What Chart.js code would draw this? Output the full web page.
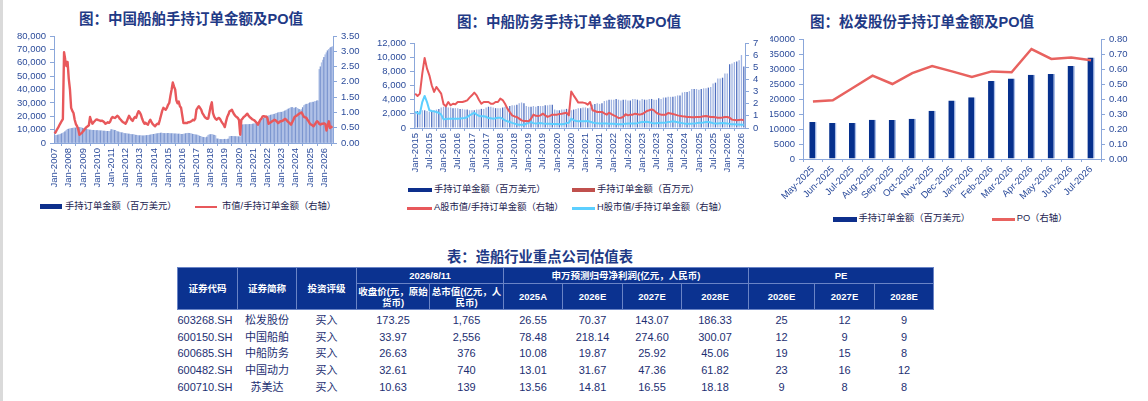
<!DOCTYPE html>
<html lang="zh-CN">
<head>
<meta charset="UTF-8">
<title>造船行业手持订单与估值</title>
<script src="https://cdn.jsdelivr.net/npm/chart.js"></script>
<style>
  html, body { margin: 0; padding: 0; }
  body { width: 1148px; height: 401px; position: relative; overflow: hidden; background: #fff;
         font-family: "Liberation Sans", "Noto Sans CJK SC", sans-serif; }
  .edge { position: absolute; left: 0; top: 0; width: 3px; height: 401px; background: #dadada; }
  .title { position: absolute; transform: translate(-50%, -50%); white-space: nowrap;
           font-size: 14.5px; font-weight: bold; color: #1f3a86; }
  canvas { position: absolute; }
  .sw { position: absolute; }
  .lt { position: absolute; transform: translateY(-50%); white-space: nowrap; font-size: 9.3px;
        color: #1c2350; line-height: 1; }
  table.val { position: absolute; left: 177px; top: 267px; width: 756px; border-collapse: collapse; table-layout: fixed; }
  table.val th { background: #0b3290; color: #fff; font-size: 9.5px; font-weight: bold; border: 1px solid #6a84c6;
                 padding: 0 1px; line-height: 11px; text-align: center; overflow: hidden; }
  table.val tr.r1 th { height: 15px; }
  table.val tr.r2 th { height: 25px; }
  table.val td { font-size: 11px; color: #1d2f72; text-align: center; padding: 0; height: 16.6px;
                 line-height: 16px; white-space: nowrap; }
  table.val tr.first td { padding-top: 2px; }
  table.val td.code { text-align: left; }
</style>
</head>
<body>
<div class="edge"></div>

<!-- 图1 中国船舶 -->
<div class="title" style="left:191px; top:16.5px">图：中国船舶手持订单金额及PO值</div>
<canvas id="c1" width="366" height="170" style="left:0; top:26px"></canvas>
<div class="sw" style="left:40px; top:204.3px; width:22px; height:4.7px; background:#0d2f8c"></div>
<div class="lt" style="left:65px; top:206.7px">手持订单金额（百万美元）</div>
<div class="sw" style="left:195px; top:205.5px; width:22px; height:2.5px; background:#e8585b"></div>
<div class="lt" style="left:222px; top:206.7px">市值/手持订单金额（右轴）</div>

<!-- 图2 中船防务 -->
<div class="title" style="left:569px; top:20px">图：中船防务手持订单金额及PO值</div>
<canvas id="c2" width="400" height="150" style="left:370px; top:30px"></canvas>
<div class="sw" style="left:408px; top:187.7px; width:24px; height:4.7px; background:#0d2f8c"></div>
<div class="lt" style="left:434px; top:190px">手持订单金额（百万美元）</div>
<div class="sw" style="left:572px; top:187.7px; width:23px; height:4.7px; background:#c0504d"></div>
<div class="lt" style="left:597px; top:190px">手持订单金额（百万元）</div>
<div class="sw" style="left:407px; top:207px; width:25px; height:2.5px; background:#e8585b"></div>
<div class="lt" style="left:434px; top:208.3px">A股市值/手持订单金额（右轴）</div>
<div class="sw" style="left:572px; top:207px; width:23px; height:2.5px; background:#5ccfff"></div>
<div class="lt" style="left:597px; top:208.3px">H股市值/手持订单金额（右轴）</div>

<!-- 图3 松发股份 -->
<div class="title" style="left:922px; top:20px">图：松发股份手持订单金额及PO值</div>
<canvas id="c3" width="378" height="180" style="left:770px; top:28px"></canvas>
<div class="sw" style="left:832.7px; top:217px; width:24px; height:5px; background:#0d2f8c"></div>
<div class="lt" style="left:858.5px; top:219.3px">手持订单金额（百万美元）</div>
<div class="sw" style="left:991.7px; top:218px; width:23px; height:2.5px; background:#e8625f"></div>
<div class="lt" style="left:1016.7px; top:219.3px">PO（右轴）</div>

<!-- 估值表 -->
<div class="title" style="left:540px; top:255px; font-size:14.3px">表：造船行业重点公司估值表</div>
<table class="val">
  <colgroup>
    <col style="width:60px"><col style="width:59px"><col style="width:60px"><col style="width:73px">
    <col style="width:74px"><col style="width:59px"><col style="width:60px"><col style="width:59px">
    <col style="width:67px"><col style="width:66px"><col style="width:60px"><col style="width:59px">
  </colgroup>
  <tr class="r1">
    <th rowspan="2">证券代码</th><th rowspan="2">证券简称</th><th rowspan="2">投资评级</th>
    <th colspan="2">2026/8/11</th><th colspan="4">申万预测归母净利润(亿元，人民币)</th><th colspan="3">PE</th>
  </tr>
  <tr class="r2">
    <th>收盘价(元，原始货币)</th><th>总市值(亿元，人民币)</th>
    <th>2025A</th><th>2026E</th><th>2027E</th><th>2028E</th><th>2026E</th><th>2027E</th><th>2028E</th>
  </tr>
  <tr class="first"><td class="code">603268.SH</td><td>松发股份</td><td>买入</td><td>173.25</td><td>1,765</td><td>26.55</td><td>70.37</td><td>143.07</td><td>186.33</td><td>25</td><td>12</td><td>9</td></tr>
  <tr><td class="code">600150.SH</td><td>中国船舶</td><td>买入</td><td>33.97</td><td>2,556</td><td>78.48</td><td>218.14</td><td>274.60</td><td>300.07</td><td>12</td><td>9</td><td>9</td></tr>
  <tr><td class="code">600685.SH</td><td>中船防务</td><td>买入</td><td>26.63</td><td>376</td><td>10.08</td><td>19.87</td><td>25.92</td><td>45.06</td><td>19</td><td>15</td><td>8</td></tr>
  <tr><td class="code">600482.SH</td><td>中国动力</td><td>买入</td><td>32.61</td><td>740</td><td>13.01</td><td>31.67</td><td>47.36</td><td>61.82</td><td>23</td><td>16</td><td>12</td></tr>
  <tr><td class="code">600710.SH</td><td>苏美达</td><td>买入</td><td>10.63</td><td>139</td><td>13.56</td><td>14.81</td><td>16.55</td><td>18.18</td><td>9</td><td>8</td><td>8</td></tr>
</table>

<script>
// 中国船舶：手持订单金额（百万美元），2007年1月起逐月
const csscOrders = [
  5500, 5600, 5800, 6000, 6200, 6500, 7000, 7400, 7800, 8500, 9500, 10200,
  10400, 10600, 10800, 11000, 11200, 11300, 11200, 11400, 11500, 11600, 11500, 11300,
  11000, 10800, 10500, 10200, 10000, 9800, 9700, 9600, 9500, 9500, 9400, 9300,
  9300, 9200, 9200, 9100, 9000, 9000, 8900, 8800, 8700, 8700, 8600, 8700,
  10000, 9800, 9600, 9400, 9000, 8600, 8300, 8000, 7800, 7600, 7400, 7200,
  7000, 6900, 6800, 6600, 6500, 6400, 6300, 6200, 6000, 5800, 5600, 5500,
  5500, 5400, 5400, 5300, 5400, 5500, 5600, 5700, 5800, 6000, 6200, 6400,
  6500, 6700, 6800, 7000, 7200, 7300, 7400, 7300, 7200, 7100, 7000, 7100,
  7200, 7100, 7000, 7000, 6900, 6900, 6800, 6800, 6700, 6700, 6600, 6500,
  6500, 6600, 6800, 7000, 7200, 7300, 7200, 7000, 6800, 6500, 6300, 6200,
  6000, 5800, 5500, 5000, 4700, 4400, 4200, 4000, 3800, 4500, 5800, 6200,
  6300, 6400, 6200, 5800, 5500, 3200, 3000, 2800, 2700, 2600, 2600, 2700,
  2800, 2700, 2700, 3000, 4800, 5000, 5000, 4900, 4900, 4800, 4700, 4700,
  4600, 4500, 13500, 13600, 13600, 13700, 13700, 13800, 13800, 13900, 13900, 14000,
  14200, 14300, 14500, 15000, 15500, 16000, 17000, 17500, 18000, 18500, 19000, 19500,
  20000, 20300, 20500, 20800, 21000, 21300, 21500, 22000, 22200, 22500, 22800, 23000,
  23000, 23200, 23500, 24000, 24500, 25000, 25500, 26000, 26500, 26500, 26000, 26000,
  26500, 26000, 25500, 25000, 24500, 25000, 26500, 28000, 28500, 29000, 29000, 29500,
  30000, 30000, 30500, 30500, 31000, 31000, 31500, 31500, 55000, 57000, 60000, 62000,
  64000, 66000, 67500, 69000, 70000, 71000, 71500, 72000
];
// 中国船舶：市值/手持订单金额（右轴）
const csscPO = [
  0.31, 0.36, 0.44, 0.50, 0.58, 0.65, 0.72, 0.78, 2.97, 2.73, 2.52, 2.65,
  2.10, 1.75, 1.15, 1.05, 0.98, 0.76, 0.62, 0.55, 0.45, 0.27, 0.30, 0.33,
  0.38, 0.42, 0.48, 0.52, 0.55, 0.58, 0.85, 0.72, 0.63, 0.68, 0.72, 0.76,
  0.77, 0.75, 0.74, 0.72, 0.73, 0.71, 0.68, 0.63, 0.65, 0.68, 0.66, 0.70,
  0.80, 0.85, 0.83, 0.82, 0.85, 0.89, 0.86, 0.80, 0.76, 0.71, 0.68, 0.66,
  0.63, 0.70, 0.80, 0.89, 0.82, 0.76, 0.72, 0.80, 0.85, 0.83, 0.95, 1.04,
  1.00, 0.93, 0.80, 0.70, 0.63, 0.66, 0.62, 0.60, 0.70, 0.76, 0.68, 0.62,
  0.58, 0.55, 0.60, 0.63, 0.62, 0.75, 0.90, 1.05, 1.15, 1.12, 1.09, 1.15,
  1.25, 1.31, 1.55, 1.75, 1.98, 1.85, 1.75, 1.40, 1.30, 1.36, 1.20, 1.15,
  0.90, 0.65, 0.65, 0.66, 0.65, 0.68, 0.68, 0.70, 0.72, 0.76, 0.74, 0.80,
  1.09, 1.15, 1.20, 1.15, 1.09, 0.98, 0.92, 0.85, 0.82, 0.79, 0.80, 1.00,
  1.20, 1.33, 0.98, 0.86, 0.80, 0.76, 0.80, 0.82, 0.78, 0.71, 0.65, 0.60,
  0.52, 0.70, 0.85, 0.93, 1.04, 1.06, 1.09, 1.00, 0.93, 0.88, 0.85, 0.82,
  0.75, 0.27, 0.76, 0.80, 0.85, 0.88, 0.92, 0.96, 0.90, 0.85, 0.82, 0.78,
  0.76, 0.74, 0.70, 0.66, 0.60, 0.68, 0.76, 0.80, 0.87, 0.88, 0.86, 0.87,
  0.82, 0.63, 0.66, 0.68, 0.71, 0.73, 0.76, 0.74, 0.70, 0.65, 0.68, 0.71,
  0.71, 0.73, 0.76, 0.79, 0.76, 0.71, 0.68, 0.64, 0.60, 0.68, 0.76, 0.85,
  0.88, 0.90, 0.93, 0.96, 0.98, 1.00, 0.92, 0.85, 0.84, 0.82, 0.75, 0.70,
  0.63, 0.60, 0.58, 0.55, 0.60, 0.66, 0.71, 0.68, 0.62, 0.60, 0.63, 0.63,
  0.64, 0.62, 0.41, 0.58, 0.71, 0.49, 0.52, 0.55
];

// 中船防务：手持订单金额（百万美元），2015年1月起逐月
const gsiOrders = [
  2300, 2400, 2400, 2500, 2500, 2400, 2300, 2400, 2500, 2600, 2700, 2900,
  3000, 3000, 2900, 2900, 2800, 2800, 2800, 2700, 2700, 2600, 2600, 2500,
  2500, 2500, 2600, 2600, 2700, 2700, 2900, 3000, 3000, 2900, 2800, 2800,
  2800, 2900, 3000, 3000, 3100, 3200, 3200, 3300, 3500, 3600, 3500, 3100,
  3000, 3000, 3100, 3000, 3100, 3100, 3100, 3200, 3200, 3300, 3300, 2600,
  2500, 2500, 2600, 2600, 2700, 2600, 2500, 2600, 2700, 2800, 2800, 2900,
  2900, 2800, 2900, 3300, 3400, 3500, 3400, 3500, 3800, 3900, 4000, 4000,
  4000, 4100, 4000, 3900, 4000, 4000, 3900, 3900, 4100, 4100, 4000, 3900,
  4100, 4000, 4000, 4100, 4100, 4000, 4000, 4200, 4100, 4300, 4300, 4400,
  4400, 4400, 4500, 4600, 4600, 5000, 5100, 5100, 5200, 5500, 5500, 5500,
  5400, 5500, 5600, 5600, 5700, 5800, 6300, 6400, 7000, 7000, 7100, 7700,
  7700, 9000, 9100, 9300, 9400, 9550, 10300, 8700
];
// 中船防务：A股市值/手持订单金额（右轴）
const gsiPOA = [
  2.83, 2.64, 2.83, 4.48, 5.77, 4.89, 4.34, 3.52, 2.97, 3.38, 3.10, 2.83,
  1.95, 1.79, 2.14, 1.87, 2.00, 1.95, 2.14, 2.14, 2.14, 2.20, 2.28, 2.50,
  2.69, 2.91, 2.69, 2.30, 2.00, 2.14, 2.14, 2.14, 2.00, 2.00, 2.14, 2.14,
  2.42, 2.30, 2.00, 1.60, 1.32, 1.04, 0.95, 0.91, 0.77, 0.63, 0.58, 0.57,
  0.55, 0.77, 1.10, 1.00, 0.99, 1.04, 1.18, 1.04, 0.91, 1.00, 1.10, 1.10,
  1.10, 1.15, 1.18, 1.22, 1.26, 1.04, 3.00, 2.69, 2.40, 2.09, 2.09, 2.09,
  2.05, 1.92, 2.14, 1.46, 1.40, 1.32, 1.32, 1.32, 1.20, 1.10, 1.26, 1.15,
  1.04, 0.95, 0.82, 0.85, 0.91, 1.13, 1.04, 1.10, 1.10, 1.18, 1.14, 1.10,
  1.15, 1.26, 1.40, 1.46, 1.54, 1.45, 1.26, 1.15, 1.10, 1.10, 1.10, 1.24,
  1.20, 1.15, 1.10, 1.04, 1.00, 0.96, 0.94, 0.91, 0.90, 0.88, 0.89, 0.90,
  0.91, 0.93, 0.96, 0.99, 0.95, 0.91, 0.91, 0.88, 0.85, 0.85, 0.87, 0.90,
  0.91, 0.85, 0.69, 0.66, 0.63, 0.66, 0.69, 0.63
];
// 中船防务：H股市值/手持订单金额（右轴）
const gsiPOH = [
  1.32, 1.22, 1.18, 2.14, 2.64, 2.14, 1.46, 1.40, 1.37, 1.32, 1.25, 1.10,
  0.71, 0.74, 0.77, 0.77, 0.76, 0.77, 0.77, 0.78, 0.80, 0.82, 0.90, 1.04,
  1.15, 1.26, 1.10, 0.99, 0.97, 0.96, 0.92, 0.82, 0.80, 0.77, 0.80, 0.85,
  0.85, 0.75, 0.63, 0.55, 0.49, 0.42, 0.36, 0.30, 0.27, 0.27, 0.27, 0.35,
  0.42, 0.49, 0.40, 0.36, 0.40, 0.41, 0.38, 0.36, 0.36, 0.35, 0.33, 0.33,
  0.33, 0.31, 0.30, 0.32, 0.40, 0.44, 0.77, 0.65, 0.58, 0.56, 0.55, 0.55,
  0.56, 0.58, 0.52, 0.45, 0.41, 0.40, 0.38, 0.38, 0.38, 0.37, 0.36, 0.35,
  0.35, 0.33, 0.30, 0.31, 0.33, 0.36, 0.37, 0.38, 0.38, 0.38, 0.40, 0.45,
  0.49, 0.50, 0.52, 0.48, 0.42, 0.38, 0.40, 0.42, 0.44, 0.44, 0.44, 0.50,
  0.52, 0.55, 0.52, 0.48, 0.44, 0.40, 0.36, 0.36, 0.36, 0.36, 0.38, 0.40,
  0.44, 0.44, 0.46, 0.49, 0.49, 0.45, 0.40, 0.38, 0.38, 0.40, 0.41, 0.40,
  0.38, 0.34, 0.30, 0.30, 0.29, 0.28, 0.27, 0.27
];

// 松发股份
const sfMonths = ['May-2025', 'Jun-2025', 'Jul-2025', 'Aug-2025', 'Sep-2025', 'Oct-2025', 'Nov-2025', 'Dec-2025',
                  'Jan-2026', 'Feb-2026', 'Mar-2026', 'Apr-2026', 'May-2026', 'Jun-2026', 'Jul-2026'];
const sfOrders = [12300, 12000, 12000, 13100, 13000, 13400, 16100, 19500, 20600, 26000, 26800, 28100, 28300, 31000, 33800];
const sfPO = [0.384, 0.391, 0.473, 0.556, 0.500, 0.573, 0.620, 0.584, 0.547, 0.584, 0.578, 0.733, 0.667, 0.676, 0.658];

const MON = ['Jan', 'Feb', 'Mar', 'Apr', 'May', 'Jun', 'Jul', 'Aug', 'Sep', 'Oct', 'Nov', 'Dec'];
function monthLabels(startYear, n) {
  const out = [];
  for (let i = 0; i < n; i++) out.push(MON[i % 12] + '-' + (startYear + Math.floor(i / 12)));
  return out;
}

const AXIS = '#8ba7da';
const TICK = '#2c4c9b';
const RED = '#e8585b';

Chart.defaults.font.family = '"Liberation Sans", Arial, sans-serif';
Chart.defaults.font.size = 9.5;
Chart.defaults.color = TICK;
Chart.defaults.animation = false;
Chart.defaults.plugins.legend.display = false;
Chart.defaults.plugins.tooltip.enabled = false;

function yAxis(position, min, max, step, format, width) {
  return {
    position: position, min: min, max: max,
    ticks: { stepSize: step, autoSkip: false, padding: 4, callback: format },
    grid: { drawOnChartArea: false, tickLength: 4, color: AXIS },
    border: { color: AXIS },
    afterFit: scale => { scale.width = width; }
  };
}

function xAxis(rotation, height, pick) {
  return {
    ticks: {
      autoSkip: false, minRotation: rotation, maxRotation: rotation, padding: 2,
      callback: function (value) {
        const label = this.getLabelForValue(value);
        return pick(label) ? label : null;
      }
    },
    grid: { drawOnChartArea: false, tickLength: 3, color: AXIS },
    border: { color: AXIS },
    afterFit: scale => { scale.height = height; }
  };
}

const commas = v => v.toLocaleString('en-US');

new Chart(document.getElementById('c1'), {
  type: 'bar',
  data: {
    labels: monthLabels(2007, csscOrders.length),
    datasets: [
      { type: 'line', data: csscPO, yAxisID: 'y1', borderColor: RED, borderWidth: 2.4,
        pointRadius: 0, borderJoinStyle: 'round', order: 0 },
      { data: csscOrders, yAxisID: 'y', barPercentage: 1, categoryPercentage: 1, order: 1,
        backgroundColor: ctx => (ctx.dataIndex % 3 === 0 ? '#7b95cf' : '#afc0e6') }
    ]
  },
  options: {
    responsive: false,
    layout: { padding: { top: 10 } },
    scales: {
      x: xAxis(90, 53, l => l.startsWith('Jan')),
      y: yAxis('left', 0, 80000, 10000, commas, 54),
      y1: yAxis('right', 0, 3.5, 0.5, v => v.toFixed(2), 33)
    }
  }
});

new Chart(document.getElementById('c2'), {
  type: 'bar',
  data: {
    labels: monthLabels(2015, gsiOrders.length),
    datasets: [
      { type: 'line', data: gsiPOA, yAxisID: 'y1', borderColor: RED, borderWidth: 2,
        pointRadius: 0, borderJoinStyle: 'round', order: 0 },
      { type: 'line', data: gsiPOH, yAxisID: 'y1', borderColor: '#5ccfff', borderWidth: 2,
        pointRadius: 0, borderJoinStyle: 'round', order: 1 },
      { data: gsiOrders, yAxisID: 'y', barPercentage: 0.55, categoryPercentage: 1, order: 2,
        backgroundColor: ctx => (ctx.dataIndex % 3 === 1 ? '#4f6fbf' : '#9fb3e2') }
    ]
  },
  options: {
    responsive: false,
    layout: { padding: { top: 13 } },
    scales: {
      x: xAxis(90, 52, l => l.startsWith('Jan') || l.startsWith('Jul')),
      y: yAxis('left', 0, 12000, 2000, commas, 44),
      y1: yAxis('right', 0, 7, 1, v => v, 25)
    }
  }
});

new Chart(document.getElementById('c3'), {
  type: 'bar',
  data: {
    labels: sfMonths,
    datasets: [
      { type: 'line', data: sfPO, yAxisID: 'y1', borderColor: '#e8625f', borderWidth: 2.5,
        pointRadius: 0, order: 0 },
      { data: sfOrders, yAxisID: 'y', barPercentage: 0.37, categoryPercentage: 1, order: 1,
        backgroundColor: '#06308d', borderColor: '#a8bde8',
        borderWidth: { top: 0, right: 1.5, bottom: 0, left: 0 } }
    ]
  },
  options: {
    responsive: false,
    layout: { padding: { top: 11 } },
    scales: {
      x: xAxis(45, 49, () => true),
      y: yAxis('left', 0, 40000, 5000, v => v, 33),
      y1: yAxis('right', 0, 0.8, 0.1, v => v.toFixed(2), 47)
    }
  }
});
</script>
</body>
</html>
